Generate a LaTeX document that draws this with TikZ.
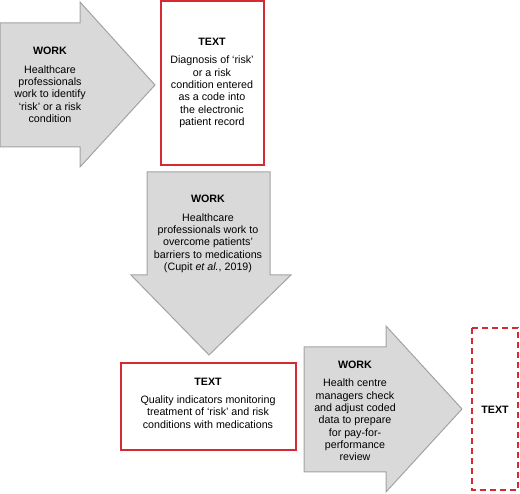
\documentclass[tikz,border=0pt]{standalone}
\usepackage{fontspec}
\setmainfont{Liberation Sans}
\definecolor{workfill}{HTML}{D9D9D9}
\definecolor{workline}{HTML}{A3A3A3}
\definecolor{textred}{HTML}{D42A31}
\begin{document}
\begin{tikzpicture}[x=1pt, y=-1pt,
  every node/.style={font=\fontsize{10.7}{12.3}\selectfont, align=center, inner sep=0pt},
  workarrow/.style={fill=workfill, draw=workline, line width=1pt},
  textbox/.style={draw=textred, line width=1.6pt},
  dashbox/.style={draw=textred, line width=1.6pt, dash pattern=on 6pt off 4pt}]
\useasboundingbox (0,0) rectangle (520,494);
% work arrows
\draw[workarrow] (0,23) -- (80,23) -- (80,2) -- (155,85) -- (80,167) -- (80,147) -- (0,147) -- cycle;
\draw[workarrow] (147,172) -- (270,172) -- (270,275) -- (291,275) -- (209,355) -- (131,275) -- (147,275) -- cycle;
\draw[workarrow] (304,347) -- (386,347) -- (386,326) -- (462,409) -- (386,492) -- (386,472) -- (304,472) -- cycle;
% text boxes
\draw[textbox] (161,1) rectangle (264,165);
\draw[textbox] (121,363) rectangle (296,450);
\draw[dashbox] (472,328) rectangle (518,490);
% labels
\node (identify) at (50,85) {\textbf{WORK}\\[6pt]Healthcare\\professionals\\work to identify\\‘risk’ or a risk\\condition};
\node (diagnosis) at (212,83) {\textbf{TEXT}\\[6pt]Diagnosis of ‘risk’\\or a risk\\condition entered\\as a code into\\the electronic\\patient record};
\node (barriers) at (208,234) {\textbf{WORK}\\[6pt]Healthcare\\professionals work to\\overcome patients’\\barriers to medications\\(Cupit \textit{et al.}, 2019)};
\node (quality) at (208,403) {\textbf{TEXT}\\[6pt]Quality indicators monitoring\\treatment of ‘risk’ and risk\\conditions with medications};
\node (managers) at (355,411) {\textbf{WORK}\\[6pt]Health centre\\managers check\\and adjust coded\\data to prepare\\for pay-for-\\performance\\review};
\node (review) at (495,410) {\textbf{TEXT}};
\end{tikzpicture}
\end{document}
